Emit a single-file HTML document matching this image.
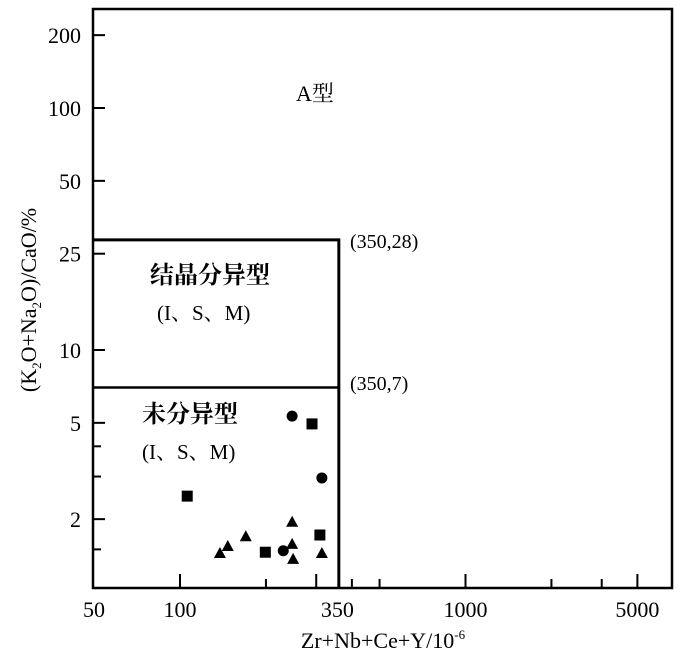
<!DOCTYPE html>
<html><head><meta charset="utf-8"><style>
body{margin:0;background:#fff;}
svg{display:block;font-family:"Liberation Serif","Noto Serif CJK SC",serif;}
</style></head><body>
<svg id="chart" width="700" height="669" viewBox="0 0 700 669" xmlns="http://www.w3.org/2000/svg">
<g id="plot"></g>
</svg>
<script>
const xLongTicks=[100,300,1000,4000];
const xShortTicks=[200,400,500,2000,3000];
const xTickLabels=["50","100","350","1000","5000"];
const xTickLabelVals=[50,100,350,1000,4000];
const yLongTicks=[200,100,50,25,10,5,2];
const yShortTicks=[4,3,1.5];
const yTickLabels=["200","100","50","25","10","5","2"];
const boundaryX=360, boundaryYHigh=28.5, boundaryYLow=7;
const circleX=[247,314,230];
const circleY=[5.33,2.96,1.48];
const squareX=[290,106,199,309];
const squareY=[4.95,2.49,1.46,1.72];
const triX=[247,170,147,138,247,249,314];
const triY=[1.95,1.70,1.55,1.45,1.58,1.37,1.45];

const L=93,R=672,T=9,B=588;
function xs(v){return 180+285.5*(Math.log10(v)-2);}
function ys(v){return 350-242*(Math.log10(v)-1);}
const NS="http://www.w3.org/2000/svg";
const g=document.getElementById('plot');
function mk(tag,attrs,parent){const e=document.createElementNS(NS,tag);for(const k in attrs)e.setAttribute(k,attrs[k]);(parent||g).appendChild(e);return e;}

const frame=mk('rect',{x:L,y:T,width:R-L,height:B-T,fill:'none',stroke:'#000','stroke-width':2.5});



xLongTicks.forEach(v=>{const t=mk('line',{x1:xs(v),x2:xs(v),y1:B,y2:B-14,stroke:'#000','stroke-width':2});

});
xShortTicks.forEach(v=>{const t=mk('line',{x1:xs(v),x2:xs(v),y1:B,y2:B-9,stroke:'#000','stroke-width':2});

});
yLongTicks.forEach(v=>{const t=mk('line',{x1:L,x2:L+12,y1:ys(v),y2:ys(v),stroke:'#000','stroke-width':2});

});
yShortTicks.forEach(v=>{const t=mk('line',{x1:L,x2:L+8,y1:ys(v),y2:ys(v),stroke:'#000','stroke-width':2});

});

xTickLabels.forEach((s,i)=>{const t=mk('text',{x:xs(xTickLabelVals[i])+(i==2?2:0),y:617,'font-size':22,'text-anchor':'middle'});t.textContent=s;

});
yTickLabels.forEach((s,i)=>{const t=mk('text',{x:81,y:ys(yLongTicks[i])+8,'font-size':22,'text-anchor':'end'});t.textContent=s;

});

const bx=xs(boundaryX);
const b1=mk('polyline',{points:`${L},${ys(boundaryYHigh)} ${bx},${ys(boundaryYHigh)} ${bx},${B}`,fill:'none',stroke:'#000','stroke-width':3});


const b2=mk('line',{x1:L,x2:bx,y1:ys(boundaryYLow),y2:ys(boundaryYLow),stroke:'#000','stroke-width':2.5});



const labels=[
 ['A型',296,101,22,'normal','region-label-a'],
 ['结晶分异型',150,283,24,'bold','region-label-fractionated'],
 ['(I、S、M)',157,320,21,'normal','region-sub-label-fractionated'],
 ['未分异型',142,422,24,'bold','region-label-unfractionated'],
 ['(I、S、M)',142,459,21,'normal','region-sub-label-unfractionated'],
 ['(350,28)',350,248,20,'normal','point-label-350-28'],
 ['(350,7)',350,390,20,'normal','point-label-350-7']];
labels.forEach(a=>{const t=mk('text',{x:a[1],y:a[2],'font-size':a[3],'font-weight':a[4]});t.textContent=a[0];

});

const xt=mk('text',{x:383,y:648,'font-size':22,'text-anchor':'middle'});
xt.innerHTML='Zr+Nb+Ce+Y/10<tspan font-size="13" dy="-9">-6</tspan>';


const yt=mk('text',{x:0,y:0,'font-size':22,'text-anchor':'middle',transform:'translate(36,300) rotate(-90)'});
yt.innerHTML='(K<tspan font-size="13" dy="5">2</tspan><tspan dy="-5">O+Na</tspan><tspan font-size="13" dy="5">2</tspan><tspan dy="-5">O)/CaO/%</tspan>';



circleX.forEach((v,i)=>{const c=mk('circle',{cx:xs(v),cy:ys(circleY[i]),r:5.5,fill:'#000'});

});
squareX.forEach((v,i)=>{const c=mk('rect',{x:xs(v)-5.5,y:ys(squareY[i])-5.5,width:11,height:11,fill:'#000'});

});
triX.forEach((v,i)=>{const x=xs(v),y=ys(triY[i]);const c=mk('polygon',{points:`${x},${y-6} ${x-6},${y+5} ${x+6},${y+5}`,fill:'#000'});

});
</script>
</body></html>
